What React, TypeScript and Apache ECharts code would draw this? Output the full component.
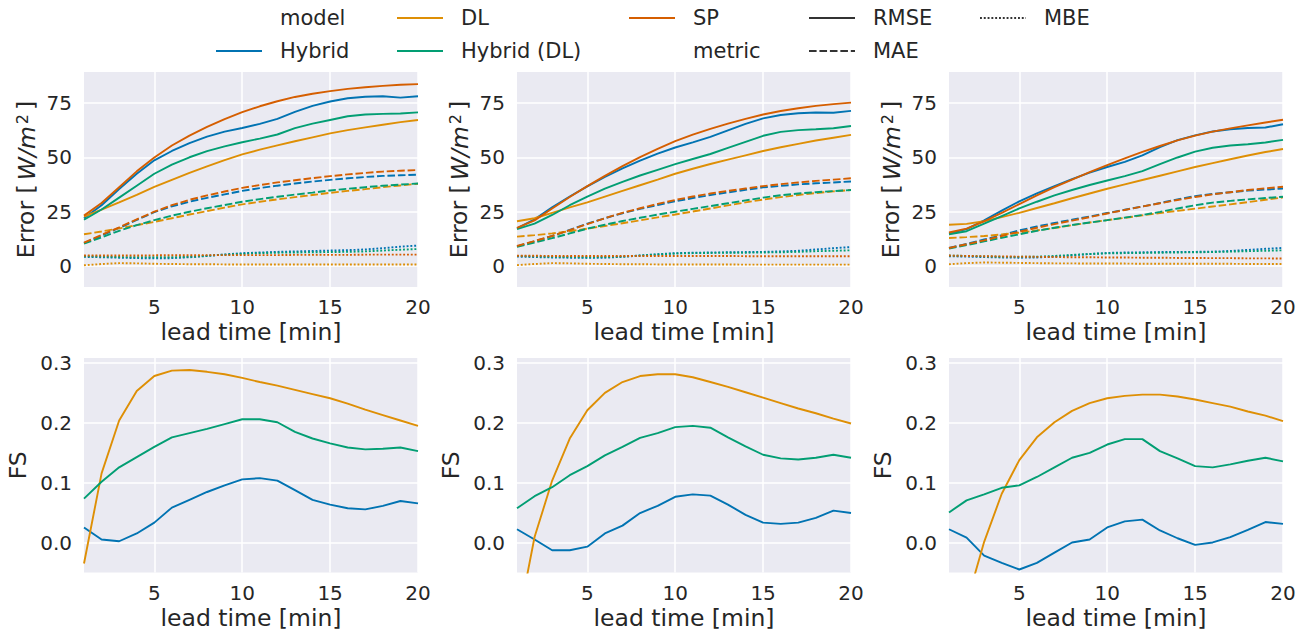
import React, { useEffect, useRef } from 'react';
import * as echarts from 'echarts';

const leadTimes = [1, 2, 3, 4, 5, 6, 7, 8, 9, 10, 11, 12, 13, 14, 15, 16, 17, 18, 19, 20];
const models = ['Hybrid', 'DL', 'Hybrid (DL)', 'SP'];
const metrics = ['RMSE', 'MAE', 'MBE'];
const xTicks = [5, 10, 15, 20];
const errTicks = [0, 25, 50, 75];
const fsTicks = [0, 0.1, 0.2, 0.3];

// ---- Panel A (left) ----
const aRmseHybrid = [22.0, 28.0, 35.5, 42.5, 48.7, 53.0, 56.6, 59.6, 61.9, 63.6, 65.5, 67.8, 71.0, 73.8, 75.8, 77.3, 78.0, 78.2, 77.6, 78.2];
const aRmseDL = [22.7, 26.0, 29.3, 32.8, 36.4, 39.7, 42.9, 45.9, 48.8, 51.4, 53.6, 55.6, 57.5, 59.3, 61.1, 62.6, 63.9, 65.1, 66.3, 67.3];
const aRmseHybridDL = [21.3, 26.0, 31.5, 37.0, 42.5, 46.7, 50.1, 52.9, 55.1, 57.0, 58.7, 60.6, 63.5, 65.6, 67.3, 69.0, 69.8, 70.1, 70.3, 70.8];
const aRmseSP = [23.2, 29.0, 36.3, 43.6, 50.0, 55.5, 60.1, 64.1, 67.7, 70.9, 73.6, 75.9, 77.9, 79.4, 80.6, 81.6, 82.4, 83.0, 83.5, 83.8];
const aMaeHybrid = [10.5, 14.0, 17.5, 21.2, 24.8, 27.5, 29.6, 31.4, 33.0, 34.6, 35.9, 37.0, 38.0, 38.9, 39.7, 40.4, 41.0, 41.5, 41.8, 42.1];
const aMaeDL = [14.6, 15.9, 17.3, 18.8, 20.3, 22.0, 23.7, 25.3, 26.9, 28.4, 29.6, 30.7, 31.7, 32.7, 33.7, 34.6, 35.4, 36.3, 37.1, 37.9];
const aMaeHybridDL = [10.3, 13.2, 16.2, 18.8, 21.1, 23.2, 25.0, 26.6, 28.1, 29.6, 30.8, 31.9, 32.9, 33.8, 34.8, 35.6, 36.3, 37.0, 37.5, 38.0];
const aMaeSP = [10.8, 14.3, 17.8, 21.5, 25.0, 28.0, 30.5, 32.5, 34.3, 36.0, 37.3, 38.5, 39.5, 40.5, 41.4, 42.2, 42.9, 43.5, 43.9, 44.2];
const aMbeHybrid = [4.2, 4.0, 3.8, 3.6, 3.5, 3.6, 4.0, 4.6, 5.3, 5.9, 6.2, 6.5, 6.7, 6.9, 7.1, 7.3, 7.6, 8.2, 8.9, 9.4];
const aMbeDL = [0.3, 0.9, 1.3, 1.2, 1.0, 0.9, 0.8, 0.8, 0.7, 0.7, 0.7, 0.7, 0.7, 0.7, 0.7, 0.7, 0.7, 0.7, 0.7, 0.7];
const aMbeHybridDL = [4.5, 4.3, 4.1, 4.0, 4.0, 4.0, 4.2, 4.7, 5.2, 5.6, 5.9, 6.1, 6.2, 6.3, 6.4, 6.5, 6.7, 7.1, 7.5, 7.8];
const aMbeSP = [4.8, 4.8, 4.8, 4.8, 4.9, 4.9, 4.9, 5.0, 5.0, 5.0, 5.0, 5.0, 5.1, 5.1, 5.1, 5.1, 5.2, 5.2, 5.2, 5.2];

// ---- Panel B (middle) ----
const bRmseHybrid = [17.3, 21.5, 27.0, 32.0, 36.7, 41.0, 45.0, 48.5, 51.8, 54.6, 57.0, 59.5, 62.5, 65.5, 68.0, 69.6, 70.4, 70.7, 70.6, 71.5];
const bRmseDL = [20.6, 22.0, 24.5, 27.0, 29.3, 32.0, 34.6, 37.2, 39.8, 42.5, 44.8, 47.0, 49.0, 51.0, 53.0, 54.7, 56.3, 57.8, 59.1, 60.4];
const bRmseHybridDL = [17.0, 19.5, 23.5, 28.0, 32.0, 35.6, 38.8, 41.7, 44.3, 46.9, 49.3, 51.6, 54.4, 57.2, 60.0, 61.8, 62.6, 63.0, 63.5, 64.5];
const bRmseSP = [17.5, 21.0, 26.5, 31.8, 36.8, 41.5, 46.0, 50.2, 54.0, 57.5, 60.5, 63.2, 65.6, 67.8, 69.8, 71.4, 72.7, 73.8, 74.6, 75.3];
const bMaeHybrid = [9.0, 11.4, 13.8, 16.6, 19.5, 22.0, 24.3, 26.3, 28.1, 29.8, 31.3, 32.7, 33.9, 35.1, 36.2, 36.9, 37.6, 38.1, 38.5, 38.9];
const bMaeDL = [13.5, 14.2, 15.0, 16.0, 17.2, 18.4, 19.7, 21.0, 22.4, 23.7, 25.1, 26.5, 27.9, 29.3, 30.6, 31.7, 32.7, 33.6, 34.4, 35.0];
const bMaeHybridDL = [8.8, 10.8, 12.8, 15.0, 17.2, 19.0, 20.7, 22.2, 23.7, 25.0, 26.3, 27.6, 28.9, 30.2, 31.5, 32.6, 33.4, 34.0, 34.5, 35.0];
const bMaeSP = [9.2, 11.5, 13.8, 16.5, 19.3, 22.0, 24.5, 26.6, 28.6, 30.4, 32.0, 33.4, 34.6, 35.7, 36.8, 37.7, 38.5, 39.2, 39.8, 40.4];
const bMbeHybrid = [4.3, 4.1, 3.9, 3.8, 3.7, 3.8, 4.2, 4.8, 5.4, 5.9, 6.1, 6.2, 6.3, 6.4, 6.5, 6.7, 7.0, 7.6, 8.2, 8.7];
const bMbeDL = [0.4, 0.9, 1.3, 1.2, 1.0, 0.9, 0.8, 0.8, 0.7, 0.7, 0.7, 0.7, 0.7, 0.6, 0.6, 0.6, 0.6, 0.6, 0.6, 0.6];
const bMbeHybridDL = [4.6, 4.4, 4.2, 4.1, 4.0, 4.1, 4.3, 4.8, 5.3, 5.7, 5.9, 6.0, 6.1, 6.1, 6.2, 6.3, 6.5, 6.8, 7.0, 7.2];
const bMbeSP = [4.7, 4.7, 4.6, 4.6, 4.6, 4.6, 4.6, 4.6, 4.6, 4.6, 4.6, 4.6, 4.6, 4.5, 4.5, 4.5, 4.5, 4.5, 4.5, 4.5];

// ---- Panel C (right) ----
const cRmseHybrid = [15.0, 17.0, 21.0, 25.5, 29.8, 33.5, 36.8, 40.0, 43.0, 45.6, 48.0, 51.0, 54.8, 58.0, 60.2, 62.0, 63.0, 63.6, 63.8, 65.3];
const cRmseDL = [19.0, 19.4, 20.6, 22.5, 24.5, 26.7, 28.9, 31.2, 33.4, 35.6, 37.6, 39.6, 41.6, 43.6, 45.6, 47.4, 49.2, 50.9, 52.5, 53.9];
const cRmseHybridDL = [14.6, 16.0, 19.5, 23.0, 26.5, 29.6, 32.5, 35.0, 37.3, 39.4, 41.4, 43.7, 46.9, 50.0, 52.7, 54.5, 55.5, 56.1, 56.9, 58.1];
const cRmseSP = [15.4, 17.2, 20.6, 24.5, 28.5, 32.5, 36.3, 39.8, 43.2, 46.5, 49.6, 52.6, 55.3, 57.9, 60.1, 61.9, 63.4, 64.8, 66.1, 67.4];
const cMaeHybrid = [8.3, 10.2, 12.2, 14.2, 16.4, 18.2, 19.8, 21.3, 22.8, 24.4, 25.9, 27.4, 29.0, 30.7, 32.2, 33.2, 34.0, 34.7, 35.2, 35.7];
const cMaeDL = [12.9, 13.3, 13.8, 14.5, 15.3, 16.4, 17.5, 18.8, 20.0, 21.1, 22.2, 23.3, 24.4, 25.4, 26.4, 27.4, 28.4, 29.4, 30.5, 31.6];
const cMaeHybridDL = [8.0, 9.6, 11.3, 13.0, 14.6, 16.2, 17.6, 18.9, 20.0, 21.1, 22.3, 23.5, 24.9, 26.5, 28.0, 29.2, 30.0, 30.7, 31.3, 31.9];
const cMaeSP = [8.3, 10.0, 11.8, 13.8, 15.8, 17.6, 19.3, 20.9, 22.5, 24.2, 25.8, 27.4, 28.9, 30.4, 31.8, 33.0, 34.0, 35.0, 35.8, 36.5];
const cMbeHybrid = [4.5, 4.3, 4.1, 3.9, 3.8, 3.9, 4.3, 4.9, 5.5, 6.0, 6.2, 6.3, 6.4, 6.5, 6.5, 6.6, 6.9, 7.4, 7.9, 8.3];
const cMbeDL = [0.8, 1.3, 1.6, 1.5, 1.4, 1.3, 1.2, 1.2, 1.1, 1.1, 1.1, 1.0, 1.0, 1.0, 1.0, 1.0, 1.0, 0.9, 0.9, 0.9];
const cMbeHybridDL = [4.8, 4.6, 4.4, 4.2, 4.2, 4.3, 4.6, 5.1, 5.5, 5.8, 5.9, 6.0, 6.1, 6.2, 6.3, 6.4, 6.6, 6.8, 7.0, 7.2];
const cMbeSP = [4.8, 4.6, 4.5, 4.4, 4.3, 4.2, 4.1, 4.0, 4.0, 3.9, 3.9, 3.8, 3.8, 3.7, 3.7, 3.6, 3.6, 3.5, 3.5, 3.4];

// ---- Forecast skill (bottom row) ----
const aFsHybrid = [0.026, 0.006, 0.003, 0.016, 0.034, 0.059, 0.072, 0.085, 0.096, 0.106, 0.108, 0.104, 0.088, 0.072, 0.064, 0.058, 0.056, 0.062, 0.070, 0.066];
const aFsDL = [-0.034, 0.116, 0.204, 0.253, 0.278, 0.287, 0.288, 0.285, 0.281, 0.275, 0.268, 0.262, 0.255, 0.248, 0.241, 0.232, 0.222, 0.213, 0.204, 0.195];
const aFsHybridDL = [0.074, 0.102, 0.126, 0.143, 0.160, 0.176, 0.183, 0.190, 0.198, 0.206, 0.206, 0.201, 0.185, 0.174, 0.166, 0.159, 0.156, 0.157, 0.159, 0.153];
const bFsHybrid = [0.023, 0.006, -0.012, -0.012, -0.006, 0.016, 0.029, 0.050, 0.062, 0.077, 0.081, 0.079, 0.064, 0.047, 0.034, 0.032, 0.034, 0.042, 0.054, 0.050];
const bFsDL = [-0.14, 0.010, 0.104, 0.174, 0.221, 0.250, 0.268, 0.278, 0.281, 0.281, 0.276, 0.268, 0.260, 0.251, 0.242, 0.233, 0.224, 0.216, 0.207, 0.199];
const bFsHybridDL = [0.058, 0.078, 0.093, 0.113, 0.128, 0.146, 0.160, 0.175, 0.183, 0.193, 0.195, 0.192, 0.176, 0.161, 0.147, 0.141, 0.139, 0.142, 0.147, 0.142];
const cFsHybrid = [0.023, 0.009, -0.021, -0.033, -0.044, -0.033, -0.016, 0.001, 0.006, 0.026, 0.036, 0.039, 0.021, 0.008, -0.003, 0.001, 0.010, 0.022, 0.035, 0.032];
const cFsDL = [-0.26, -0.10, 0.002, 0.082, 0.138, 0.176, 0.201, 0.220, 0.233, 0.241, 0.245, 0.247, 0.247, 0.244, 0.239, 0.233, 0.227, 0.219, 0.212, 0.203];
const cFsHybridDL = [0.051, 0.071, 0.081, 0.092, 0.096, 0.110, 0.126, 0.142, 0.150, 0.164, 0.173, 0.173, 0.153, 0.141, 0.128, 0.126, 0.131, 0.137, 0.142, 0.136];

const COLORS: Record<string, string> = {
  Hybrid: '#0173B2',
  DL: '#DE8F05',
  'Hybrid (DL)': '#029E73',
  SP: '#D55E00',
};
const TEXT = '#262626';
const FONT = '"DejaVu Sans", sans-serif';
const LW = 1.9;
const DASHES: Record<string, any> = {
  RMSE: 'solid',
  MAE: [4 * LW, 1.5 * LW],
  MBE: [LW, LW],
};

const errorPanels = [
  {
    RMSE: [aRmseHybrid, aRmseDL, aRmseHybridDL, aRmseSP],
    MAE: [aMaeHybrid, aMaeDL, aMaeHybridDL, aMaeSP],
    MBE: [aMbeHybrid, aMbeDL, aMbeHybridDL, aMbeSP],
  },
  {
    RMSE: [bRmseHybrid, bRmseDL, bRmseHybridDL, bRmseSP],
    MAE: [bMaeHybrid, bMaeDL, bMaeHybridDL, bMaeSP],
    MBE: [bMbeHybrid, bMbeDL, bMbeHybridDL, bMbeSP],
  },
  {
    RMSE: [cRmseHybrid, cRmseDL, cRmseHybridDL, cRmseSP],
    MAE: [cMaeHybrid, cMaeDL, cMaeHybridDL, cMaeSP],
    MBE: [cMbeHybrid, cMbeDL, cMbeHybridDL, cMbeSP],
  },
];
const fsPanels = [
  [aFsHybrid, aFsDL, aFsHybridDL],
  [bFsHybrid, bFsDL, bFsHybridDL],
  [cFsHybrid, cFsDL, cFsHybridDL],
];

const TICK_FS = 20;
const LABEL_FS = 23.5;
const LEGEND_FS = 21;

function buildOption() {
  const lefts = [84, 517, 949];
  const grids: any[] = [];
  const xAxes: any[] = [];
  const yAxes: any[] = [];
  const series: any[] = [];

  for (let i = 0; i < 6; i++) {
    const row = i < 3 ? 0 : 1;
    const col = i % 3;
    grids.push({
      left: lefts[col],
      width: 334,
      top: row === 0 ? 72 : 358,
      height: row === 0 ? 215 : 214.5,
      show: true,
      backgroundColor: '#EAEAF2',
      borderWidth: 0,
      containLabel: false,
    });
    xAxes.push({
      type: 'value',
      gridIndex: i,
      min: 1,
      max: 20,
      axisLine: { show: false },
      axisTick: { show: false, customValues: xTicks },
      axisLabel: { customValues: xTicks, color: TEXT, fontSize: TICK_FS, fontFamily: FONT, margin: 10 },
      splitLine: { show: true, lineStyle: { color: '#ffffff', width: 1.5 } },
      name: 'lead time [min]',
      nameLocation: 'middle',
      nameGap: 33,
      nameTextStyle: { color: TEXT, fontSize: LABEL_FS, fontFamily: FONT },
    });
    if (row === 0) {
      yAxes.push({
        type: 'value',
        gridIndex: i,
        min: -9.7,
        max: 89.4,
        axisLine: { show: false },
        axisTick: { show: false, customValues: errTicks },
        axisLabel: { customValues: errTicks, color: TEXT, fontSize: TICK_FS, fontFamily: FONT, margin: 12 },
        splitLine: { show: true, lineStyle: { color: '#ffffff', width: 1.5 } },
        name: '{n|Error [}{i|W/m}{s|2}{n|]}',
        nameLocation: 'middle',
        nameRotate: 90,
        nameGap: 46,
        nameTextStyle: {
          color: TEXT,
          fontSize: LABEL_FS,
          fontFamily: FONT,
          rich: {
            n: { color: TEXT, fontSize: LABEL_FS, fontFamily: FONT, verticalAlign: 'bottom' },
            i: { color: TEXT, fontSize: LABEL_FS, fontFamily: FONT, fontStyle: 'italic', verticalAlign: 'bottom', padding: [0, 0, 0, 4] },
            s: { color: TEXT, fontSize: 16, fontFamily: FONT, verticalAlign: 'top', padding: [0, 4, 0, 2] },
          },
        },
      });
    } else {
      yAxes.push({
        type: 'value',
        gridIndex: i,
        min: -0.049,
        max: 0.308,
        axisLine: { show: false },
        axisTick: { show: false, customValues: fsTicks },
        axisLabel: {
          customValues: fsTicks,
          color: TEXT,
          fontSize: TICK_FS,
          fontFamily: FONT,
          margin: 12,
          formatter: (v: number) => v.toFixed(1),
        },
        splitLine: { show: true, lineStyle: { color: '#ffffff', width: 1.5 } },
        name: 'FS',
        nameLocation: 'middle',
        nameRotate: 90,
        nameGap: 54,
        nameTextStyle: { color: TEXT, fontSize: LABEL_FS, fontFamily: FONT },
      });
    }
  }

  const mk = (idx: number, values: number[], color: string, dash: any, z: number) => ({
    type: 'line',
    xAxisIndex: idx,
    yAxisIndex: idx,
    data: leadTimes.map((t, k) => [t, values[k]]),
    showSymbol: false,
    symbol: 'none',
    clip: true,
    silent: true,
    lineStyle: { color, width: LW, type: dash, cap: 'butt' },
    itemStyle: { color },
    z,
  });

  errorPanels.forEach((panel: any, p) => {
    metrics.forEach((m, mi) => {
      models.forEach((model, k) => {
        series.push(mk(p, panel[m][k], COLORS[model], DASHES[m], 2 + k + mi * 0));
      });
    });
  });
  fsPanels.forEach((panel, p) => {
    ['Hybrid', 'DL', 'Hybrid (DL)'].forEach((model, k) => {
      series.push(mk(3 + p, panel[k], COLORS[model], 'solid', 2 + k));
    });
  });

  // legend drawn as graphic (two rows, five columns, matplotlib-style)
  const legendFont = `${LEGEND_FS}px "DejaVu Sans", sans-serif`;
  const rowY = [18, 51];
  const colText = [280, 461, 693, 873, 1044];
  const handleLen = 46;
  const handleGap = 18;
  type Entry = { label: string; color?: string; dash?: any };
  const entries: Entry[] = [
    { label: 'model' },
    { label: models[0], color: COLORS[models[0]], dash: 'solid' },
    { label: models[1], color: COLORS[models[1]], dash: 'solid' },
    { label: models[2], color: COLORS[models[2]], dash: 'solid' },
    { label: models[3], color: COLORS[models[3]], dash: 'solid' },
    { label: 'metric' },
    { label: metrics[0], color: '#333333', dash: DASHES[metrics[0]] },
    { label: metrics[1], color: '#333333', dash: DASHES[metrics[1]] },
    { label: metrics[2], color: '#333333', dash: DASHES[metrics[2]] },
  ];
  const graphics: any[] = [];
  entries.forEach((e, n) => {
    const col = Math.floor(n / 2);
    const row = n % 2;
    const tx = colText[col];
    const ty = rowY[row];
    if (e.color) {
      graphics.push({
        type: 'line',
        silent: true,
        shape: { x1: tx - handleGap - handleLen, y1: ty, x2: tx - handleGap, y2: ty },
        style: {
          stroke: e.color,
          lineWidth: LW,
          lineDash: e.dash === 'solid' ? null : e.dash,
        },
      });
    }
    graphics.push({
      type: 'text',
      silent: true,
      x: tx,
      y: ty,
      style: {
        text: e.label,
        fill: TEXT,
        font: legendFont,
        textAlign: 'left',
        textVerticalAlign: 'middle',
      },
    });
  });

  return {
    animation: false,
    backgroundColor: '#ffffff',
    textStyle: { fontFamily: FONT },
    grid: grids,
    xAxis: xAxes,
    yAxis: yAxes,
    series,
    graphic: graphics,
  };
}

export default function App() {
  const ref = useRef<HTMLDivElement>(null);
  useEffect(() => {
    if (!ref.current) return;
    const chart = echarts.init(ref.current, null, { renderer: 'svg' });
    chart.setOption(buildOption() as any);
    return () => chart.dispose();
  }, []);
  return (
    <div
      ref={ref}
      style={{ position: 'absolute', left: 0, top: 0, width: 1310, height: 633, background: '#ffffff' }}
    />
  );
}
